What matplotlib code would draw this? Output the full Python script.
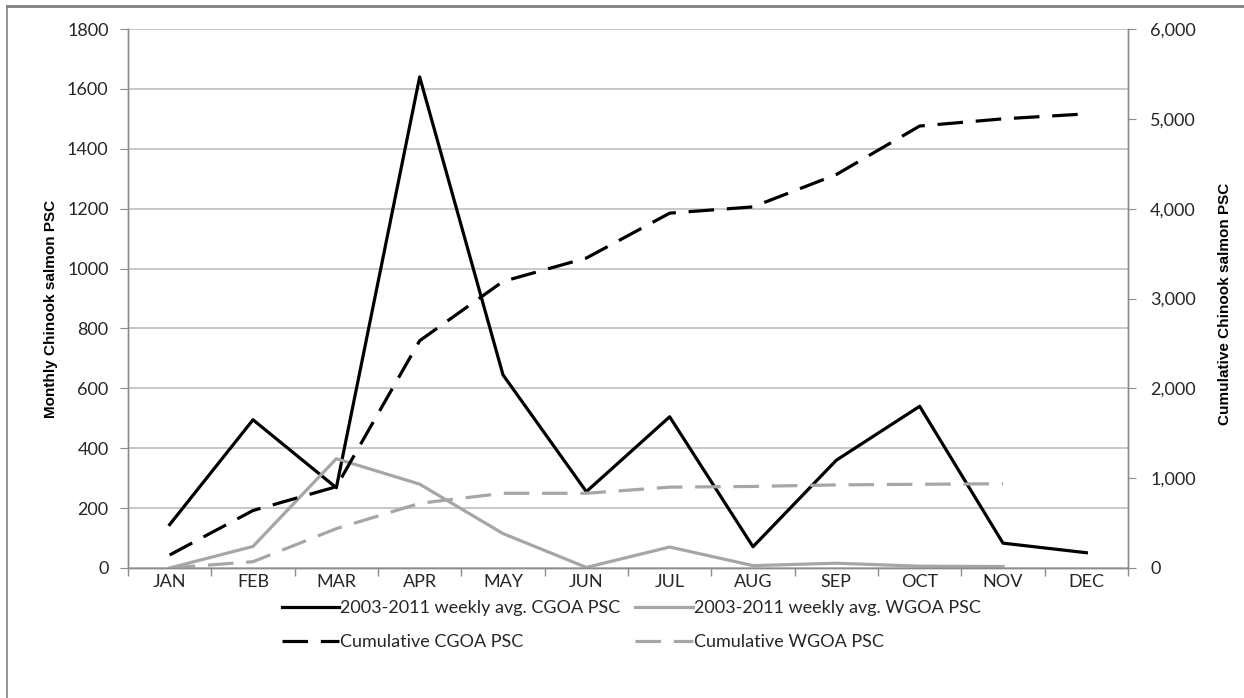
import matplotlib
matplotlib.use('Agg')
import matplotlib.pyplot as plt
from matplotlib.lines import Line2D
from matplotlib.ticker import FuncFormatter, MultipleLocator

plt.rcParams['font.family'] = ['Lato', 'DejaVu Sans']

months = ['JAN', 'FEB', 'MAR', 'APR', 'MAY', 'JUN', 'JUL', 'AUG', 'SEP', 'OCT', 'NOV', 'DEC']
cgoa_weekly = [145, 495, 268, 1640, 645, 255, 505, 71, 360, 540, 83, 51]
wgoa_weekly = [0, 72, 365, 280, 115, 2, 70, 8, 16, 6, 5]
cgoa_cum = [145, 640, 905, 2530, 3190, 3450, 3950, 4020, 4380, 4920, 5000, 5055]
wgoa_cum = [0, 70, 438, 720, 832, 832, 900, 908, 925, 932, 938]

black = '#000000'
grey = '#A6A6A6'
axis_grey = '#8C8C8C'
text_col = '#262626'

fig = plt.figure(figsize=(12.44, 6.98), dpi=100)
ax = fig.add_axes([128/1244, 1 - 568/698, 1000/1244, 539/698])
ax2 = ax.twinx()

x_c = list(range(len(cgoa_weekly)))
x_w = list(range(len(wgoa_weekly)))

l1, = ax.plot(x_c, cgoa_weekly, color=black, lw=2.3, label='2003-2011 weekly avg. CGOA PSC')
l2, = ax.plot(x_w, wgoa_weekly, color=grey, lw=2.3, label='2003-2011 weekly avg. WGOA PSC')
l3, = ax2.plot(x_c, cgoa_cum, color=black, lw=2.3, dashes=(8, 4), label='Cumulative CGOA PSC')
l4, = ax2.plot(x_w, wgoa_cum, color=grey, lw=2.3, dashes=(8, 4), label='Cumulative WGOA PSC')

ax.set_xlim(-0.5, 11.5)
ax.set_ylim(0, 1800)
ax2.set_ylim(0, 6000)

ax.set_xticks(range(12))
ax.set_xticklabels(months)
ax.set_xticks([i - 0.5 for i in range(13)], minor=True)
ax.tick_params(axis='x', which='major', length=0, pad=4, labelsize=13, colors=text_col)
ax.tick_params(axis='x', which='minor', length=6, color=axis_grey, width=1)

ax.yaxis.set_major_locator(MultipleLocator(200))
ax.tick_params(axis='y', length=6, color=axis_grey, labelsize=13, labelcolor=text_col, pad=8)
ax2.yaxis.set_major_locator(MultipleLocator(1000))
ax2.yaxis.set_major_formatter(FuncFormatter(lambda v, p: f'{int(v):,}'))
ax2.tick_params(axis='y', length=6, color=axis_grey, labelsize=13, labelcolor=text_col, pad=10)

ax.grid(axis='y', color='#BFBFBF', lw=1.2)
ax.set_axisbelow(True)

for a in (ax, ax2):
    a.spines['top'].set_visible(False)
    for s in ('left', 'right', 'bottom'):
        a.spines[s].set_color(axis_grey)
        a.spines[s].set_linewidth(1)

label_font = dict(fontsize=11, fontweight='bold', color=black,
                  family=['Liberation Sans', 'DejaVu Sans'])
ax.set_ylabel('Monthly Chinook salmon PSC', **label_font)
ax.yaxis.set_label_coords(-0.070, 0.48)
ax2.set_ylabel('Cumulative Chinook salmon PSC', **label_font)
ax2.yaxis.set_label_coords(1.090, 0.49)

leg = fig.legend(handles=[l1, l3, l2, l4], ncol=2, loc='center',
                 bbox_to_anchor=(631/1244, 1 - 625/698), frameon=False,
                 fontsize=13, handlelength=3.2, handletextpad=0.05,
                 columnspacing=0.8, labelspacing=1.0)
for t in leg.get_texts():
    t.set_color(text_col)

# frame on the top and left edges only
fig.add_artist(Line2D([7/1244, 7/1244], [0, 1 - 6/698], transform=fig.transFigure,
                      color='#808080', lw=1.2))
fig.add_artist(Line2D([7/1244, 1], [1 - 6/698, 1 - 6/698], transform=fig.transFigure,
                      color='#808080', lw=2))

fig.savefig('out.png', dpi=100, facecolor='white')
